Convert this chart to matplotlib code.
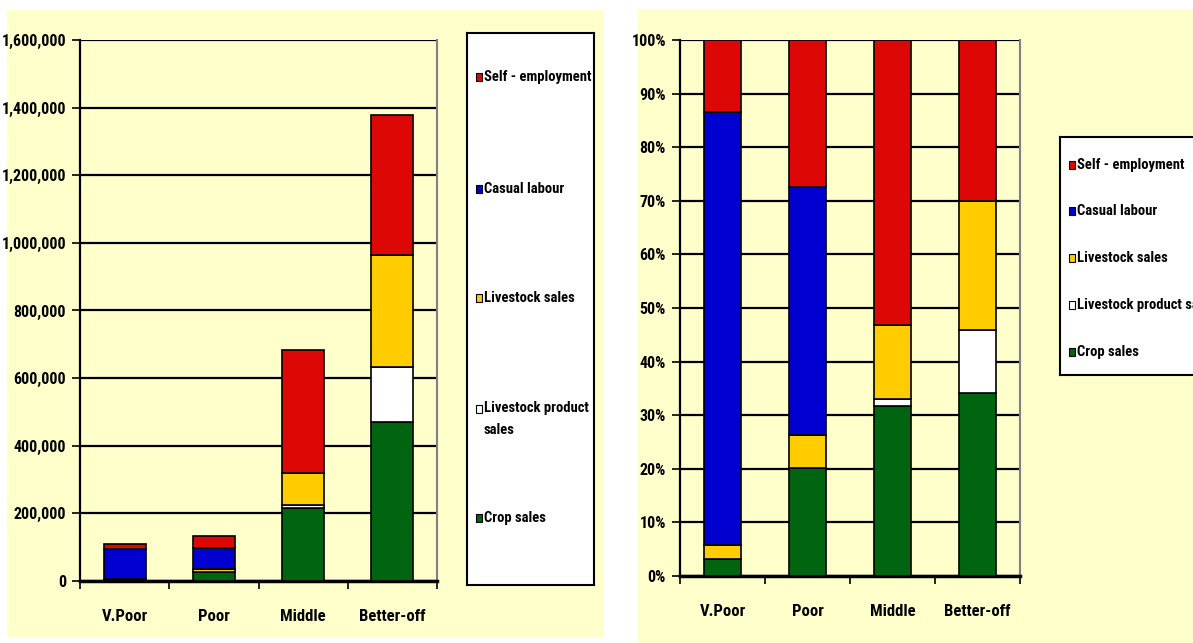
import matplotlib
matplotlib.use("Agg")
import matplotlib.pyplot as plt
from matplotlib.patches import Rectangle
from matplotlib.ticker import FuncFormatter
import numpy as np

plt.rcParams['font.family'] = ['Roboto Condensed', 'Liberation Sans', 'DejaVu Sans']
plt.rcParams['font.weight'] = 'bold'

# wealth groups
groups = ['V.Poor', 'Poor', 'Middle', 'Better-off']

# income by source (stacked bottom -> top)
crop_sales = [3500, 26700, 216000, 471000]
livestock_product_sales = [0, 0, 9600, 161000]
livestock_sales = [2800, 8200, 94000, 332000]
casual_labour = [88100, 61600, 0, 0]
self_employment = [14600, 36400, 363000, 413000]

series_names = ['Crop sales', 'Livestock product sales', 'Livestock sales',
                'Casual labour', 'Self - employment']
left_legend_names = ['Crop sales', 'Livestock product\nsales', 'Livestock sales',
                     'Casual labour', 'Self - employment']
series_colors = ['#006411', '#FFFFFF', '#FFCC00', '#0000D0', '#DD0806']

BG = '#FFFFCC'

data = np.array([crop_sales, livestock_product_sales, livestock_sales,
                 casual_labour, self_employment], dtype=float)
pct = data / data.sum(axis=0) * 100

fig = plt.figure(figsize=(11.93, 6.43), dpi=100)
W, H = 1193.0, 643.0

def fig_rect(x0, y0, x1, y1):
    # pixel box (top-left origin) -> figure fraction
    return [x0 / W, 1 - y1 / H, (x1 - x0) / W, (y1 - y0) / H]

# yellow chart panels (drawn in a background axes)
bg = fig.add_axes([0, 0, 1, 1], zorder=-10)
bg.set_xlim(0, W)
bg.set_ylim(H, 0)
bg.axis('off')
for (x0, y0, x1, y1) in [(7, 10, 604, 637), (638, 9, 1193, 643)]:
    bg.add_patch(Rectangle((x0, y0), x1 - x0, y1 - y0, facecolor=BG, edgecolor='none'))


def style_axes(ax):
    ax.set_facecolor(BG)
    x = np.arange(len(groups))
    ax.set_xlim(-0.5, len(groups) - 0.5)
    ax.set_xticks(np.arange(-0.5, len(groups), 1.0))
    ax.set_xticklabels([])
    ax.set_xticks(x, minor=True)
    ax.set_xticklabels(groups, minor=True, fontsize=12, fontweight='bold')
    ax.tick_params(axis='x', which='minor', length=0, pad=20)
    ax.tick_params(axis='x', which='major', length=6, width=1.2, direction='out')
    ax.tick_params(axis='y', length=6, width=1.2, direction='out', labelsize=11.5, pad=4)
    ax.grid(axis='y', color='black', linewidth=1.6, zorder=0)
    ax.set_axisbelow(True)
    ax.spines['left'].set_linewidth(1.6)
    ax.spines['bottom'].set_linewidth(2.5)
    ax.spines['top'].set_visible(False)
    ax.spines['right'].set_color('#808080')
    ax.spines['right'].set_linewidth(1.5)


def draw_stack(ax, values, width):
    x = np.arange(len(groups))
    bottom = np.zeros(len(groups))
    for vals, col in zip(values, series_colors):
        ax.bar(x, vals, width, bottom=bottom, color=col, edgecolor='black',
               linewidth=1.2, zorder=3)
        bottom += vals


def draw_legend(rect, names, ys, fs):
    lax = fig.add_axes(fig_rect(*rect))
    lax.set_xlim(rect[0], rect[2])
    lax.set_ylim(rect[3], rect[1])
    lax.set_xticks([])
    lax.set_yticks([])
    lax.set_facecolor('white')
    for s in lax.spines.values():
        s.set_linewidth(1.5)
    for name, col, y in zip(names, series_colors, ys):
        lax.add_patch(Rectangle((rect[0] + 9, y - 4), 6, 8, facecolor=col,
                                edgecolor='black', linewidth=0.8))
        lax.text(rect[0] + 17, y - (8 if '\n' in name else 0), name,
                 va='center' if '\n' not in name else 'top',
                 ha='left', fontsize=fs, fontweight='bold', linespacing=1.7)
    return lax


# ---- left chart: absolute values ----
ax1 = fig.add_axes(fig_rect(80, 40, 437, 581))
draw_stack(ax1, data, 0.47)
style_axes(ax1)
ax1.set_ylim(0, 1600000)
ax1.set_yticks(np.arange(0, 1600001, 200000))
ax1.yaxis.set_major_formatter(FuncFormatter(lambda v, p: f'{int(v):,}'))

draw_legend((467, 33, 594, 585), left_legend_names,
            [518, 409, 298, 189, 77], 10.5)

# ---- right chart: percentage shares ----
ax2 = fig.add_axes(fig_rect(680, 40, 1020, 576))
draw_stack(ax2, pct, 0.44)
style_axes(ax2)
ax2.set_ylim(0, 100)
ax2.set_yticks(np.arange(0, 101, 10))
ax2.yaxis.set_major_formatter(FuncFormatter(lambda v, p: f'{int(v)}%'))

draw_legend((1060, 137, 1215, 375), series_names,
            [352, 305, 258, 211, 165], 10.5)

fig.savefig('out.png', dpi=100, facecolor='white')
